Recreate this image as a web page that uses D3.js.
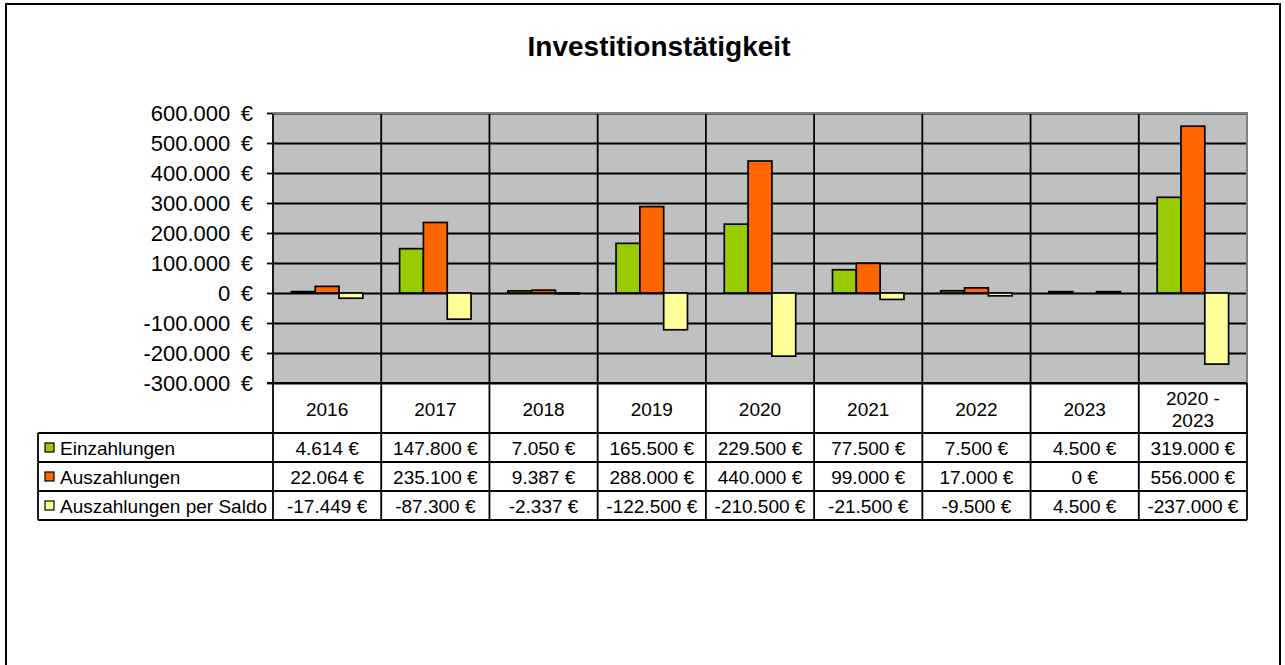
<!DOCTYPE html>
<html>
<head>
<meta charset="utf-8">
<script src="https://cdn.jsdelivr.net/npm/d3@7"></script>
<style>
    html, body { margin: 0; padding: 0; background: #fff; }
    svg { display: block; font-family: "Liberation Sans", Arial, sans-serif; }
</style>
</head>
<body>
<svg id="chart" width="1285" height="665"></svg>
<script>
// chart data
var categories = ['2016', '2017', '2018', '2019', '2020', '2021', '2022', '2023', '2020 - 2023'];
var seriesNames = ['Einzahlungen', 'Auszahlungen', 'Auszahlungen per Saldo'];
var einzahlungen = [4614, 147800, 7050, 165500, 229500, 77500, 7500, 4500, 319000];
var auszahlungen = [22064, 235100, 9387, 288000, 440000, 99000, 17000, 0, 556000];
var saldo = [-17449, -87300, -2337, -122500, -210500, -21500, -9500, 4500, -237000];
var yTicks = [-300000, -200000, -100000, 0, 100000, 200000, 300000, 400000, 500000, 600000];
var seriesColors = ['#99cc00', '#ff6600', '#ffff99'];
var titleText = 'Investitionstätigkeit';

var seriesValues = [einzahlungen, auszahlungen, saldo];

var plot = {left: 273, right: 1247, top: 113, bottom: 383};
var table = {left: 38, headerBottom: 433, rowHeight: 29};
var tableBottom = table.headerBottom + seriesNames.length * table.rowHeight;

/**
 * German number format with euro sign
 * @param {string} gap - what goes between number and €
 */
function euroFormat(gap) {
    return d3.formatLocale({
        decimal: ',',
        thousands: '.',
        grouping: [3],
        currency: ['', gap + '€'],
        minus: '-'
    }).format('$,.0f');
}
var euro = euroFormat(' ');
var euroAxis = euroFormat(' \u2009');

var svg = d3.select('#chart');

var x = d3.scaleBand()
    .domain(categories)
    .range([plot.left, plot.right]);

var groupWidth = x.step() * 0.66;
var xInner = d3.scaleBand()
    .domain(seriesNames)
    .range([(x.step() - groupWidth) / 2, (x.step() + groupWidth) / 2]);

var y = d3.scaleLinear()
    .domain([yTicks[0], yTicks[yTicks.length - 1]])
    .range([plot.bottom, plot.top]);

// outer frame (bottom edge runs off the picture)
svg.append('rect')
    .attr('x', 6).attr('y', 4)
    .attr('width', 1274).attr('height', 720)
    .attr('fill', 'none')
    .attr('stroke', '#000')
    .attr('stroke-width', 2);

svg.append('text')
    .attr('x', 659).attr('y', 56)
    .attr('text-anchor', 'middle')
    .attr('font-size', 28)
    .attr('font-weight', 'bold')
    .text(titleText);

// plot background
svg.append('rect')
    .attr('x', plot.left).attr('y', plot.top)
    .attr('width', plot.right - plot.left)
    .attr('height', plot.bottom - plot.top)
    .attr('fill', '#c0c0c0');

// horizontal grid
var grid = svg.append('g')
    .attr('transform', 'translate(' + plot.left + ',0)')
    .call(d3.axisLeft(y).tickValues(yTicks).tickSize(-(plot.right - plot.left)).tickFormat(''));
grid.select('.domain').remove();
grid.selectAll('line').attr('stroke', '#000').attr('stroke-width', 1.8);

// value axis with labels
var yAxis = svg.append('g')
    .attr('transform', 'translate(' + plot.left + ',0)')
    .call(d3.axisLeft(y).tickValues(yTicks).tickSize(6).tickPadding(14).tickFormat(euroAxis));
yAxis.select('.domain').remove();
yAxis.selectAll('line').attr('stroke', '#000').attr('stroke-width', 1.8);
yAxis.selectAll('text')
    .attr('font-size', 22)
    .attr('font-family', '"Liberation Sans", Arial, sans-serif')
    .attr('fill', '#000');

// column separators, through plot and table
var bounds = categories.map(function (c) { return x(c); }).concat([plot.right]);
svg.selectAll('.col-line')
    .data(bounds)
    .enter().append('line')
    .attr('class', 'col-line')
    .attr('x1', function (d) { return d; })
    .attr('x2', function (d) { return d; })
    .attr('y1', function (d, i) { return i === bounds.length - 1 ? plot.bottom : plot.top; })
    .attr('y2', tableBottom)
    .attr('stroke', '#000')
    .attr('stroke-width', 1.8);

// bars
var barData = [];
categories.forEach(function (c, i) {
    seriesNames.forEach(function (s, j) {
        if (seriesValues[j][i] !== 0) {
            barData.push({cat: c, series: s, value: seriesValues[j][i], color: seriesColors[j]});
        }
    });
});

svg.append('g').selectAll('rect')
    .data(barData)
    .enter().append('rect')
    .attr('x', function (d) { return x(d.cat) + xInner(d.series); })
    .attr('y', function (d) { return y(Math.max(0, d.value)); })
    .attr('width', xInner.bandwidth())
    .attr('height', function (d) { return Math.abs(y(d.value) - y(0)); })
    .attr('fill', function (d) { return d.color; })
    .attr('stroke', '#000')
    .attr('stroke-width', 1.7);

// plot border top and right (grey)
svg.append('path')
    .attr('d', 'M' + plot.left + ',' + plot.top + 'H' + plot.right + 'V' + plot.bottom)
    .attr('fill', 'none')
    .attr('stroke', '#808080')
    .attr('stroke-width', 2);

// bottom plot edge
svg.append('line')
    .attr('x1', plot.left - 6).attr('x2', plot.right)
    .attr('y1', plot.bottom).attr('y2', plot.bottom)
    .attr('stroke', '#000').attr('stroke-width', 1.8);

// data table: header row with category labels
var header = svg.append('g').selectAll('text')
    .data(categories)
    .enter().append('text')
    .attr('text-anchor', 'middle')
    .attr('font-size', 19)
    .attr('transform', function (d) {
        return 'translate(' + (x(d) + x.step() / 2) + ',0)';
    });

header.each(function (d) {
    var parts = d.indexOf(' - ') > -1 ? [d.split(' - ')[0] + ' -', d.split(' - ')[1]] : [d];
    var t = d3.select(this);
    var first = parts.length > 1 ? 405 : 416;
    parts.forEach(function (p, k) {
        t.append('tspan').attr('x', 0).attr('y', first + k * 22).text(p);
    });
});

// table row lines
var rowLines = d3.range(seriesNames.length + 1).map(function (k) {
    return table.headerBottom + k * table.rowHeight;
});
svg.selectAll('.row-line')
    .data(rowLines)
    .enter().append('line')
    .attr('class', 'row-line')
    .attr('x1', table.left).attr('x2', plot.right)
    .attr('y1', function (d) { return d; })
    .attr('y2', function (d) { return d; })
    .attr('stroke', '#000')
    .attr('stroke-width', 1.8);

svg.append('line')
    .attr('x1', table.left).attr('x2', table.left)
    .attr('y1', table.headerBottom).attr('y2', tableBottom)
    .attr('stroke', '#000').attr('stroke-width', 1.8);

// legend keys and series names
var rows = svg.append('g').selectAll('g')
    .data(seriesNames)
    .enter().append('g')
    .attr('transform', function (d, i) {
        return 'translate(0,' + (table.headerBottom + i * table.rowHeight) + ')';
    });

rows.append('rect')
    .attr('x', 45).attr('y', 10)
    .attr('width', 9).attr('height', 9)
    .attr('fill', function (d, i) { return seriesColors[i]; })
    .attr('stroke', '#000')
    .attr('stroke-width', 1.2);

rows.append('text')
    .attr('x', 60).attr('y', 22)
    .attr('font-size', 19)
    .text(function (d) { return d; });

// table values
rows.each(function (s, j) {
    d3.select(this).selectAll('.val')
        .data(seriesValues[j])
        .enter().append('text')
        .attr('class', 'val')
        .attr('x', function (d, i) { return x(categories[i]) + x.step() / 2; })
        .attr('y', 22)
        .attr('text-anchor', 'middle')
        .attr('font-size', 19)
        .text(function (d) { return euro(d); });
});
</script>
</body>
</html>
